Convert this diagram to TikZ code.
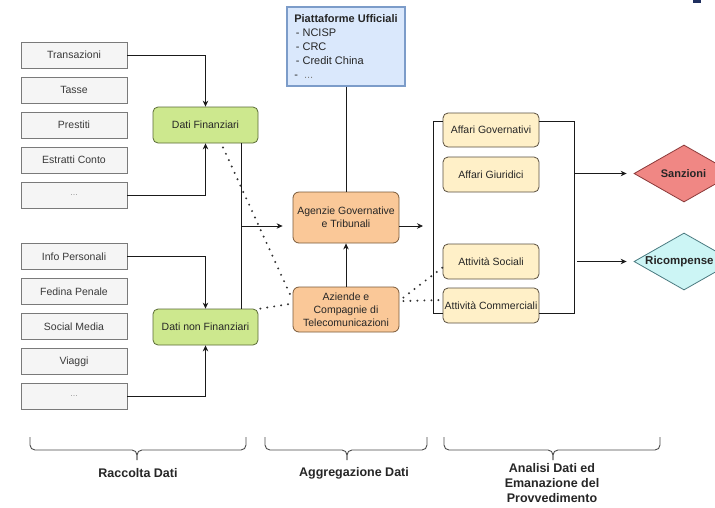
\documentclass[tikz,border=0pt]{standalone}
\usepackage{fontspec}
\setmainfont{Liberation Sans}
\usetikzlibrary{shapes.geometric,arrows.meta}
\definecolor{srcF}{HTML}{F5F5F5}
\definecolor{srcB}{HTML}{7A7A7A}
\definecolor{srcT}{HTML}{3A3A3A}
\definecolor{grnF}{HTML}{CDE88E}
\definecolor{grnB}{HTML}{5A6B36}
\definecolor{orgF}{HTML}{FAC898}
\definecolor{orgB}{HTML}{7A5A3A}
\definecolor{ylwF}{HTML}{FFF0C8}
\definecolor{ylwB}{HTML}{5A5040}
\definecolor{bluF}{HTML}{DAE8FC}
\definecolor{bluB}{HTML}{7C9CC9}
\definecolor{redF}{HTML}{F08784}
\definecolor{redB}{HTML}{8B3A3A}
\definecolor{cyaF}{HTML}{CCF5F5}
\definecolor{cyaB}{HTML}{4A7A80}
\definecolor{lineC}{HTML}{1A1A1A}
\definecolor{navy}{HTML}{1F2F5F}
\begin{document}
\begin{tikzpicture}[x=1pt,y=-1pt,
  every node/.style={inner sep=0pt, font=\fontsize{10.5}{13}\selectfont},
  srcbox/.style={draw=srcB, fill=srcF, minimum width=106pt, minimum height=26pt, text=srcT, line width=0.8pt},
  grnbox/.style={draw=grnB, fill=grnF, rounded corners=5pt, minimum width=105pt, minimum height=36pt, line width=0.8pt, text=black!85},
  orgbox/.style={draw=orgB, fill=orgF, rounded corners=6pt, minimum width=106pt, line width=0.8pt, align=center, text=black!85},
  ylwbox/.style={draw=ylwB, fill=ylwF, rounded corners=5pt, minimum width=96pt, minimum height=35pt, line width=0.8pt, text=black!85},
  diam/.style={diamond, minimum width=100pt, minimum height=57pt, line width=0.8pt},
  conn/.style={draw=lineC, line width=0.8pt},
  arr/.style={conn, -{Stealth[length=6pt,width=5.5pt]}},
  dots/.style={draw=black!80, line width=2.2pt, line cap=round, dash pattern=on 0pt off 7pt},
  bracec/.style={draw=black!70, line width=0.9pt, rounded corners=5pt},
  lbl/.style={font=\bfseries\fontsize{12.5}{15}\selectfont, align=center, text=black!85}
]
\clip (0,0) rectangle (715,507);
\fill[white] (0,0) rectangle (715,507);
\fill[navy] (693,0) rectangle (701,3);

% sources
\node[srcbox] (t1) at (74,55) {Transazioni};
\node[srcbox] (t2) at (74,90) {Tasse};
\node[srcbox] (t3) at (74,125) {Prestiti};
\node[srcbox] (t4) at (74,160) {Estratti Conto};
\node[srcbox, text=black!40, font=\fontsize{9}{11}\selectfont] (t5) at (74,195) {...};
\node[srcbox] (p1) at (74,256.5) {Info Personali};
\node[srcbox] (p2) at (74,291.5) {Fedina Penale};
\node[srcbox] (p3) at (74,326.5) {Social Media};
\node[srcbox] (p4) at (74,361.5) {Viaggi};
\node[srcbox, text=black!40, font=\fontsize{9}{11}\selectfont] (p5) at (74,396.5) {...};

% green
\node[grnbox] (DF) at (205.5,125) {Dati Finanziari};
\node[grnbox] (DnF) at (205.5,327) {Dati non Finanziari};

% platforms
\node[draw=bluB, fill=bluF, line width=1.4pt, minimum width=118pt, minimum height=79pt, align=left, font=\fontsize{11}{14}\selectfont, text=black!85] (Pt) at (346,46.5)
 {\textbf{Piattaforme Ufficiali}\\\hspace{1.5pt}- NCISP\\\hspace{1.5pt}- CRC\\\hspace{1.5pt}- Credit China\\-\hspace{6pt}\textcolor{black!50}{...}};

% orange
\node[orgbox, minimum height=51pt] (Ag) at (346,217.5) {Agenzie Governative\\e Tribunali};
\node[orgbox, minimum height=45pt] (Az) at (346,309.5) {Aziende e\\Compagnie di\\Telecomunicazioni};

% yellow
\node[ylwbox, minimum height=34pt] (AG) at (491,130) {Affari Governativi};
\node[ylwbox] (AGi) at (491,174.5) {Affari Giuridici};
\node[ylwbox] (AS) at (491,261.5) {Attività Sociali};
\node[ylwbox] (AC) at (491,305.5) {Attività Commerciali};

% diamonds
\node[diam, draw=redB, fill=redF] (San) at (684,173.5) {};
\node[font=\bfseries\fontsize{11}{13}\selectfont, text=black!85] (SanT) at (683.5,174) {Sanzioni};
\node[diam, draw=cyaB, fill=cyaF] (Ric) at (684,261.5) {};
\node[font=\bfseries\fontsize{11.5}{13}\selectfont, text=black!85, anchor=west] (RicT) at (645,262) {Ricompense};

% connectors left
\draw[arr] (t1.east) -| (DF.north);
\draw[arr] (t5.east) -| (DF.south);
\draw[arr] (p1.east) -| (DnF.north);
\draw[arr] (p5.east) -| (DnF.south);
\draw[conn] ([xshift=35.5pt]DF.south) -- ([xshift=35.5pt]DnF.north);
\coordinate (jn) at (241,226);
\draw[arr, shorten >=10pt] (jn) -- (jn -| Ag.west);

% middle
\draw[conn] (Pt.south) -- (Ag.north);
\draw[arr] (Az.north) -- (Ag.south);
\coordinate (ao) at (399,226);
\coordinate (bl) at (433,226);
\draw[arr, shorten >=10pt] (ao) -- (bl);

% brackets right
\draw[conn] ([yshift=9pt]AG.west) -- (433,121) -- (433,313) -- ([yshift=-7.5pt]AC.west);
\draw[conn] ([yshift=9pt]AG.east) -- (574,121) -- (574,313) -- ([yshift=-7.5pt]AC.east);
\coordinate (r1) at (574,173.5);
\coordinate (r2) at (577,261.5);
\draw[arr, shorten >=7pt] (r1) -- (San.west);
\draw[arr, shorten >=7pt] (r2) -- (Ric.west);

% dotted
\draw[dots] ([xshift=17.5pt,yshift=-4pt]DF.south) -- ([yshift=9.5pt]Az.west);
\draw[dots] ([xshift=2pt]DnF.north east) -- ([yshift=6pt]Az.west);
\draw[dots] ([xshift=4pt,yshift=12pt]Az.east) -- ([yshift=-6pt]AS.west);
\draw[dots] ([xshift=4pt,yshift=8.5pt]Az.east) -- ([yshift=5.5pt]AC.west);

% braces
\draw[bracec] (30,437) -- (30,450) -- (137,450) -- (137,460);
\draw[bracec] (246,437) -- (246,450) -- (137,450) -- (137,460);
\draw[bracec] (265,437) -- (265,450) -- (347,450) -- (347,460);
\draw[bracec] (427,437) -- (427,450) -- (347,450) -- (347,460);
\draw[bracec] (444,437) -- (444,450) -- (553,450) -- (553,460);
\draw[bracec] (660,437) -- (660,450) -- (553,450) -- (553,460);

\node[lbl] (L1) at (138,473) {Raccolta Dati};
\node[lbl] (L2) at (354,473) {Aggregazione Dati};
\node[lbl, anchor=north] (L3) at (552,463.5) {Analisi Dati ed\\Emanazione del\\Provvedimento};
\end{tikzpicture}
\end{document}
